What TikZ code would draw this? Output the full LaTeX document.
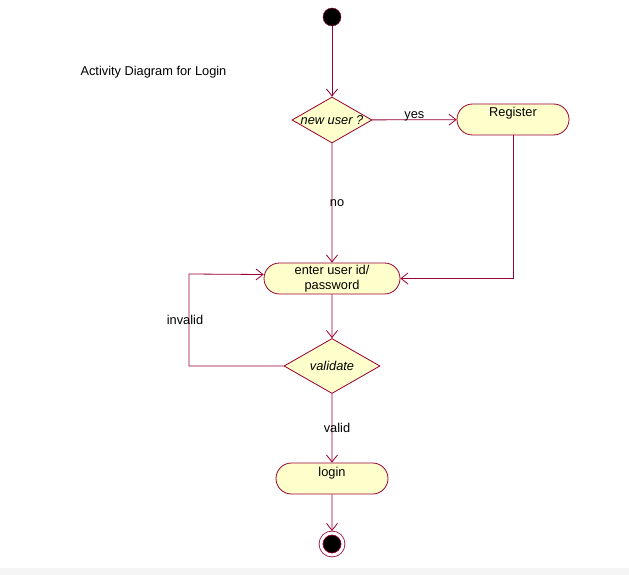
\documentclass[tikz,border=0pt]{standalone}
\usepackage{fontspec}
\setmainfont{Liberation Sans}
\usetikzlibrary{shapes.geometric,shapes.misc,arrows.meta}
\definecolor{umlline}{RGB}{153,0,51}
\definecolor{umlfill}{RGB}{255,255,204}
\begin{document}
\begin{tikzpicture}[x=1pt, y=-1pt, auto, font=\fontsize{12.8}{15.5}\selectfont,
               action_style/.style={rounded rectangle,draw=umlline,fill=umlfill,line width=0.8pt,minimum width=120pt,inner sep=4pt},
               top_text/.style={text height=9pt,text depth=14pt},
               decision_style/.style={diamond,draw=umlline,fill=umlfill,line width=0.8pt,inner sep=0pt,minimum width=#1,minimum height=46pt},
               edge_style/.style={draw=umlline,line width=0.8pt,-{Straight Barb[length=7pt,width=11pt,line width=0.8pt]}}]
                \useasboundingbox (0,0) rectangle (629,575);
                \fill[black!4] (0,568) rectangle (629,575);

                \node[anchor=west] (title) at (77,72) {Activity Diagram for Login};

                \node[circle,draw=umlline,fill=black,minimum size=18pt,inner sep=0pt] (start) at (332,17) {};
                \node[decision_style=80pt,label={center:\textit{new user ?}}] (newuser) at (332,120) {};
                \node[action_style,top_text] (register) at (513,119.5) {Register};
                \node[action_style,minimum width=138pt,minimum height=31pt,align=center,inner sep=1pt] (enter) at (332,278.5) {enter user id/\\password};
                \node[decision_style=96pt,minimum height=55pt,label={center:\textit{validate}}] (validate) at (332,366) {};
                \node[action_style,top_text] (login) at (332,478.5) {login};
                \node[circle,draw=umlline,fill=black,minimum size=22pt,line width=0.8pt,double=white,double distance=3pt,outer sep=2pt] (end) at (332,544) {};
                \coordinate (loop) at (189,274);

                \draw[edge_style]  (start) edge (newuser);
                \draw[edge_style]  (newuser) edge node[yshift=3pt,auto=false]{yes} (register);
                \draw[edge_style]  (newuser) edge node[xshift=5pt,auto=false]{no} (enter);
                \draw[edge_style]  (register.south) |- (enter.east);
                \draw[edge_style]  (enter) edge (validate);
                \draw[edge_style]  (validate.west) -| node[pos=0.75,auto=false,xshift=-4pt]{invalid} (loop) -- ([yshift=4pt]enter.west);
                \draw[edge_style]  (validate) edge node[xshift=5pt,auto=false]{valid} (login);
                \draw[edge_style]  (login) edge (end);
            \end{tikzpicture}
\end{document}
